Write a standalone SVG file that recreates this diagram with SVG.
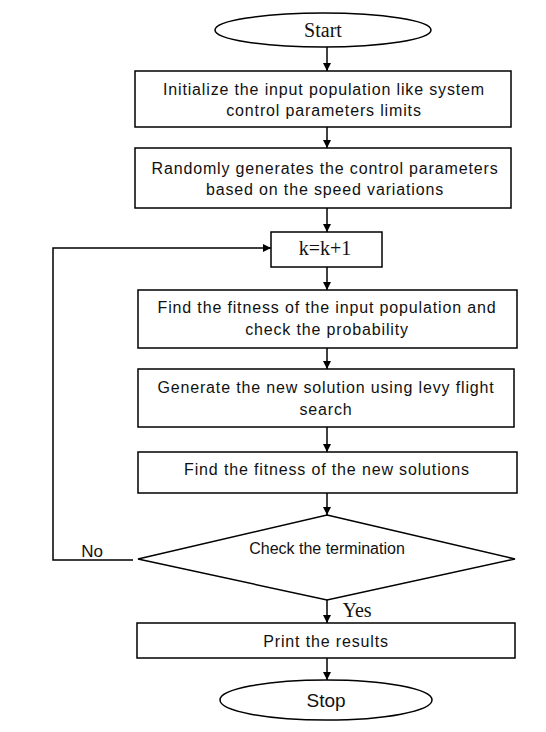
<svg xmlns="http://www.w3.org/2000/svg" width="546" height="732" viewBox="0 0 546 732">
<style>
.shape{fill:#fff;stroke:#000;stroke-width:1.5}
.t{font-family:"Liberation Sans",Arial,sans-serif;font-size:16px;letter-spacing:0.85px;fill:#111;text-anchor:middle}
.s{font-family:"Liberation Serif","Times New Roman",serif;font-size:20px;fill:#111;text-anchor:middle}
.c{fill:none;stroke:#000;stroke-width:1.5}
</style>
<defs>
<marker id="ah" viewBox="0 0 10 10" refX="10" refY="5" markerWidth="8" markerHeight="8" markerUnits="userSpaceOnUse" orient="auto">
<path d="M0,0 L10,5 L0,10 z" fill="#000"/>
</marker>
</defs>
<rect width="546" height="732" fill="#fff"/>
<g id="connectors">
<line class="c" x1="327" y1="47" x2="327" y2="71" marker-end="url(#ah)"/>
<line class="c" x1="327" y1="127" x2="327" y2="148" marker-end="url(#ah)"/>
<line class="c" x1="327" y1="208" x2="327" y2="232" marker-end="url(#ah)"/>
<line class="c" x1="327" y1="267" x2="327" y2="290" marker-end="url(#ah)"/>
<line class="c" x1="327" y1="348" x2="327" y2="369" marker-end="url(#ah)"/>
<line class="c" x1="327" y1="427" x2="327" y2="452" marker-end="url(#ah)"/>
<line class="c" x1="327" y1="493" x2="327" y2="515" marker-end="url(#ah)"/>
<line class="c" x1="327" y1="600" x2="327" y2="623" marker-end="url(#ah)"/>
<line class="c" x1="327" y1="658" x2="327" y2="680" marker-end="url(#ah)"/>
<polyline class="c" points="133,560 53,560 53,248 271,248" marker-end="url(#ah)"/>
<text class="t" x="92" y="557" style="font-size:17px;letter-spacing:0">No</text>
<text class="s" x="357" y="617">Yes</text>
</g>
<g id="start">
<ellipse class="shape" cx="323" cy="30" rx="108" ry="17"/>
<text class="s" x="323" y="37">Start</text>
</g>
<g id="init">
<rect class="shape" x="135" y="71" width="376" height="56"/>
<text class="t" x="324" y="95">Initialize the input population like system</text>
<text class="t" x="324" y="116">control parameters limits</text>
</g>
<g id="random">
<rect class="shape" x="135" y="148" width="376" height="60"/>
<text class="t" x="325" y="174">Randomly generates the control parameters</text>
<text class="t" x="325" y="195">based on the speed variations</text>
</g>
<g id="kinc">
<rect class="shape" x="271" y="232" width="111" height="35"/>
<text class="s" x="325" y="255">k=k+1</text>
</g>
<g id="fitness1">
<rect class="shape" x="138" y="290" width="379" height="58"/>
<text class="t" x="327" y="313">Find the fitness of the input population and</text>
<text class="t" x="327" y="335">check the probability</text>
</g>
<g id="levy">
<rect class="shape" x="138" y="369" width="376" height="58"/>
<text class="t" x="326" y="393">Generate the new solution using levy flight</text>
<text class="t" x="326" y="415">search</text>
</g>
<g id="fitness2">
<rect class="shape" x="138" y="452" width="379" height="41"/>
<text class="t" x="327" y="475">Find the fitness of the new solutions</text>
</g>
<g id="check">
<polygon class="shape" points="327,515 515,559 327,600 138,559"/>
<text class="t" x="327" y="554" style="letter-spacing:0">Check the termination</text>
</g>
<g id="print">
<rect class="shape" x="137" y="623" width="378" height="35"/>
<text class="t" x="326" y="647">Print the results</text>
</g>
<g id="stop">
<ellipse class="shape" cx="326" cy="700" rx="106" ry="20"/>
<text class="t" x="326" y="707" style="font-size:19px;letter-spacing:0">Stop</text>
</g>
</svg>
